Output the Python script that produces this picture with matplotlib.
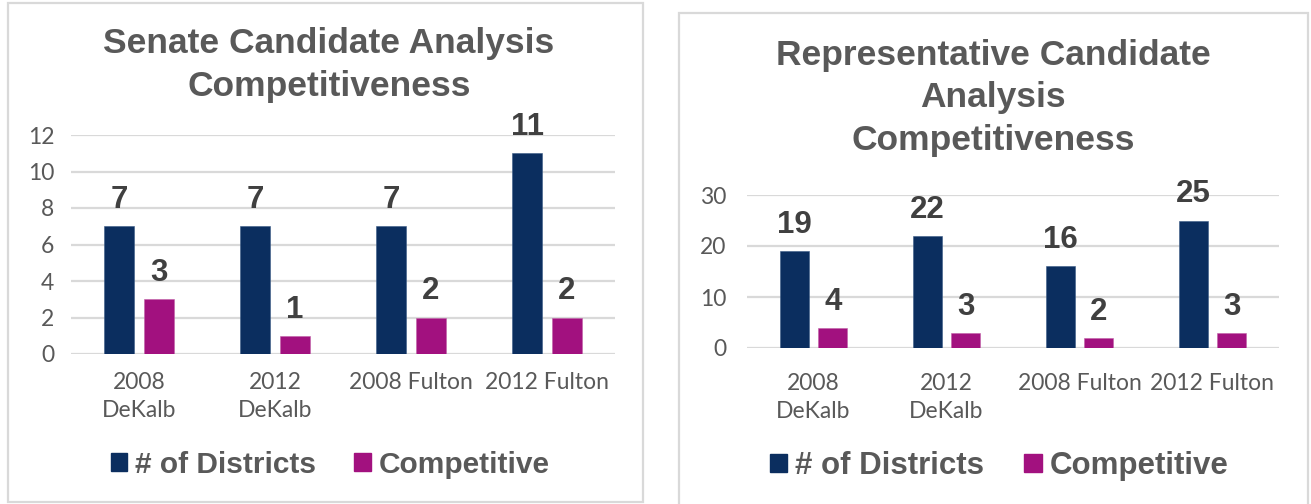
import matplotlib
matplotlib.use("Agg")
import matplotlib.pyplot as plt
from matplotlib.patches import Rectangle, Patch

# data
categories = ["2008\nDeKalb", "2012\nDeKalb", "2008 Fulton", "2012 Fulton"]
senate_districts = [7, 7, 7, 11]
senate_competitive = [3, 1, 2, 2]
rep_districts = [19, 22, 16, 25]
rep_competitive = [4, 3, 2, 3]
series_names = ["# of Districts", "Competitive"]

NAVY = "#0B2E5F"
MAGENTA = "#A2117F"
GRID = "#D9D9D9"
TEXT = "#595959"
LABEL = "#404040"

W, H = 1311, 504
fig = plt.figure(figsize=(W / 100, H / 100), dpi=100)


def px_box(x0, y0, x1, y1):
    """pixel box (top-left origin) -> figure fraction rect"""
    return [x0 / W, 1 - y1 / H, (x1 - x0) / W, (y1 - y0) / H]


def panel(rect, box, title, title_xy, title_size, districts, competitive,
          ymax, ystep, tick_pad, ylab_pad, legend_xy, legend_size):
    # light border around each chart
    bx = px_box(*box)
    fig.patches.append(Rectangle((bx[0], bx[1]), bx[2], bx[3],
                                 transform=fig.transFigure, fill=False,
                                 edgecolor=GRID, linewidth=1.6))
    ax = fig.add_axes(px_box(*rect))
    x = range(len(categories))
    w = 0.22
    b1 = ax.bar([i - 0.145 for i in x], districts, w, color=NAVY,
                edgecolor="#3A5A86", linewidth=0.4, zorder=3)
    b2 = ax.bar([i + 0.145 for i in x], competitive, w, color=MAGENTA,
                edgecolor="#C060A8", linewidth=0.4, zorder=3)
    for bars in (b1, b2):
        for r in bars:
            ax.annotate(f"{int(r.get_height())}",
                        (r.get_x() + r.get_width() / 2, r.get_height()),
                        xytext=(0, 13), textcoords="offset points",
                        ha="center", va="baseline", fontsize=22.5,
                        fontweight="bold", color=LABEL,
                        family=["Liberation Sans Narrow", "Liberation Sans"],
                        zorder=4)
    ax.set_xlim(-0.5, len(categories) - 0.5)
    ax.set_ylim(0, ymax)
    ax.set_yticks(range(0, ymax + 1, ystep))
    ax.set_xticks(list(x))
    ax.set_xticklabels(categories, linespacing=1.4)
    ax.tick_params(axis="both", length=0, colors=TEXT, labelsize=16.5)
    ax.tick_params(axis="x", pad=tick_pad)
    ax.tick_params(axis="y", pad=ylab_pad)
    for lab in ax.get_xticklabels() + ax.get_yticklabels():
        lab.set_family(["Lato", "DejaVu Sans"])
    ax.grid(axis="y", color=GRID, linewidth=1.6, zorder=0)
    for s in ax.spines.values():
        s.set_visible(False)
    ax.set_facecolor("none")

    fig.text(title_xy[0] / W, 1 - title_xy[1] / H, title, ha="center",
             va="center", fontsize=title_size, fontweight="bold",
             color=TEXT, family=["Liberation Sans", "DejaVu Sans"],
             linespacing=1.38)

    handles = [Patch(facecolor=NAVY, edgecolor=NAVY),
               Patch(facecolor=MAGENTA, edgecolor=MAGENTA)]
    fig.legend(handles, series_names, loc="center",
               bbox_to_anchor=(legend_xy[0] / W, 1 - legend_xy[1] / H),
               ncol=2, frameon=False, handlelength=0.55, handleheight=0.55,
               handletextpad=0.25, columnspacing=1.3,
               prop={"family": "Liberation Sans", "weight": "bold",
                     "size": legend_size},
               labelcolor=TEXT)
    return ax


panel((71, 135, 615, 354), (8, 3, 643, 502),
      "Senate Candidate Analysis\nCompetitiveness", (329, 65), 25.5,
      senate_districts, senate_competitive, 12, 2, 13, 12, (330, 465), 21.5)

panel((747, 195, 1279, 348), (679, 13, 1308, 520),
      "Representative Candidate\nAnalysis\nCompetitiveness", (993, 98), 25.5,
      rep_districts, rep_competitive, 30, 10, 18, 15, (999, 466), 22.5)

fig.savefig("out.png", dpi=100)
